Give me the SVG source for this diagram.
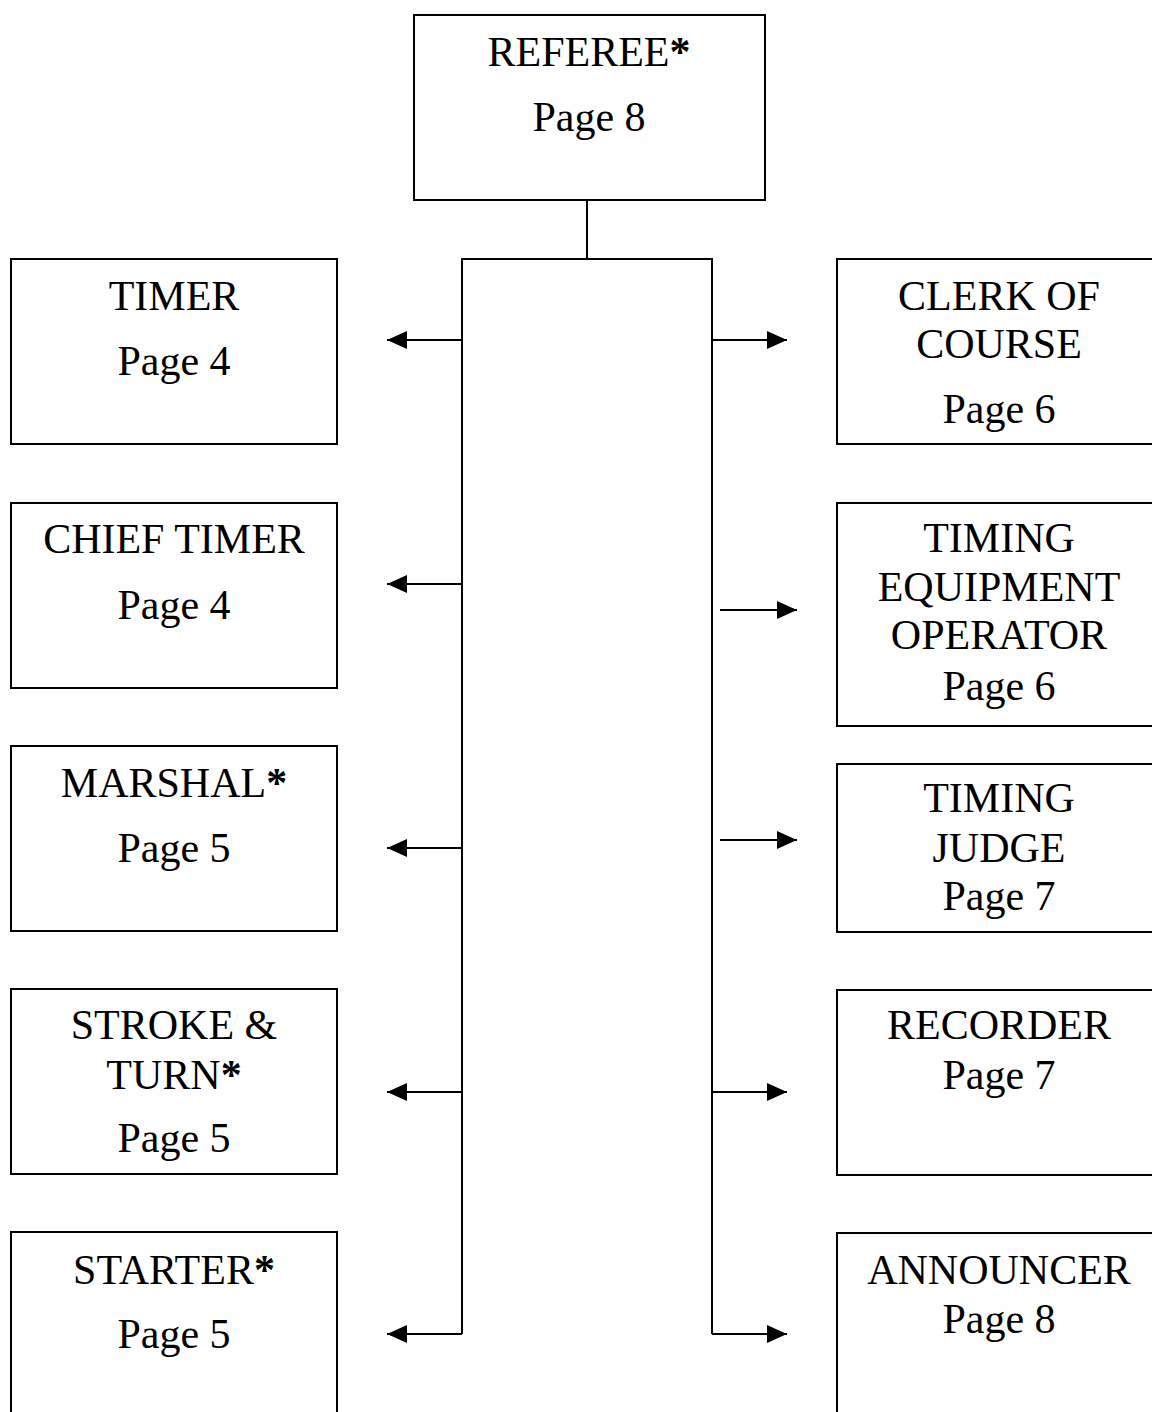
<svg xmlns="http://www.w3.org/2000/svg" width="1152" height="1412" viewBox="0 0 1152 1412">
<style>
.box{fill:#fff;stroke:#000;stroke-width:2}
.t{font-family:"Liberation Serif","Times New Roman",serif;font-size:42px;fill:#000;text-anchor:middle}
.st{font-weight:bold}
.ln{fill:none;stroke:#000;stroke-width:2}
.ar{fill:none;stroke:#000;stroke-width:2;marker-end:url(#ah)}
</style>
<defs>
<marker id="ah" markerUnits="userSpaceOnUse" markerWidth="20" markerHeight="18" refX="20" refY="9" orient="auto">
<path d="M0,0 L20,9 L0,18 z" fill="#000"/>
</marker>
</defs>
<rect width="1152" height="1412" fill="#fff"/>
<g id="connectors">
<path class="ln" d="M587,200 V259"/>
<path class="ln" d="M462,1334 V259 H712 V1334"/>
<path class="ar" d="M462,340 H387"/>
<path class="ar" d="M462,584 H387"/>
<path class="ar" d="M462,848 H387"/>
<path class="ar" d="M462,1092 H387"/>
<path class="ar" d="M462,1334 H387"/>
<path class="ar" d="M712,340 H787"/>
<path class="ar" d="M720,610 H797"/>
<path class="ar" d="M720,840 H797"/>
<path class="ar" d="M712,1092 H787"/>
<path class="ar" d="M712,1334 H787"/>
</g>
<g id="referee">
<rect class="box" x="414" y="15" width="351" height="185"/>
<text class="t" x="589" y="66">REFEREE<tspan class="st">*</tspan></text>
<text class="t" x="589" y="131">Page 8</text>
</g>
<g id="timer">
<rect class="box" x="11" y="259" width="326" height="185"/>
<text class="t" x="174" y="310">TIMER</text>
<text class="t" x="174" y="375">Page 4</text>
</g>
<g id="chief-timer">
<rect class="box" x="11" y="503" width="326" height="185"/>
<text class="t" x="174" y="553">CHIEF TIMER</text>
<text class="t" x="174" y="619">Page 4</text>
</g>
<g id="marshal">
<rect class="box" x="11" y="746" width="326" height="185"/>
<text class="t" x="174" y="797">MARSHAL<tspan class="st">*</tspan></text>
<text class="t" x="174" y="862">Page 5</text>
</g>
<g id="stroke-turn">
<rect class="box" x="11" y="989" width="326" height="185"/>
<text class="t" x="174" y="1039">STROKE &amp;</text>
<text class="t" x="174" y="1089">TURN<tspan class="st">*</tspan></text>
<text class="t" x="174" y="1152">Page 5</text>
</g>
<g id="starter">
<rect class="box" x="11" y="1232" width="326" height="200"/>
<text class="t" x="174" y="1284">STARTER<tspan class="st">*</tspan></text>
<text class="t" x="174" y="1348">Page 5</text>
</g>
<g id="clerk-of-course">
<rect class="box" x="837" y="259" width="330" height="185"/>
<text class="t" x="999" y="310">CLERK OF</text>
<text class="t" x="999" y="358">COURSE</text>
<text class="t" x="999" y="423">Page 6</text>
</g>
<g id="timing-equipment-operator">
<rect class="box" x="837" y="503" width="330" height="223"/>
<text class="t" x="999" y="552">TIMING</text>
<text class="t" x="999" y="601">EQUIPMENT</text>
<text class="t" x="999" y="649">OPERATOR</text>
<text class="t" x="999" y="700">Page 6</text>
</g>
<g id="timing-judge">
<rect class="box" x="837" y="764" width="330" height="168"/>
<text class="t" x="999" y="812">TIMING</text>
<text class="t" x="999" y="862">JUDGE</text>
<text class="t" x="999" y="910">Page 7</text>
</g>
<g id="recorder">
<rect class="box" x="837" y="990" width="330" height="185"/>
<text class="t" x="999" y="1039">RECORDER</text>
<text class="t" x="999" y="1089">Page 7</text>
</g>
<g id="announcer">
<rect class="box" x="837" y="1233" width="330" height="200"/>
<text class="t" x="999" y="1284">ANNOUNCER</text>
<text class="t" x="999" y="1333">Page 8</text>
</g>
</svg>
